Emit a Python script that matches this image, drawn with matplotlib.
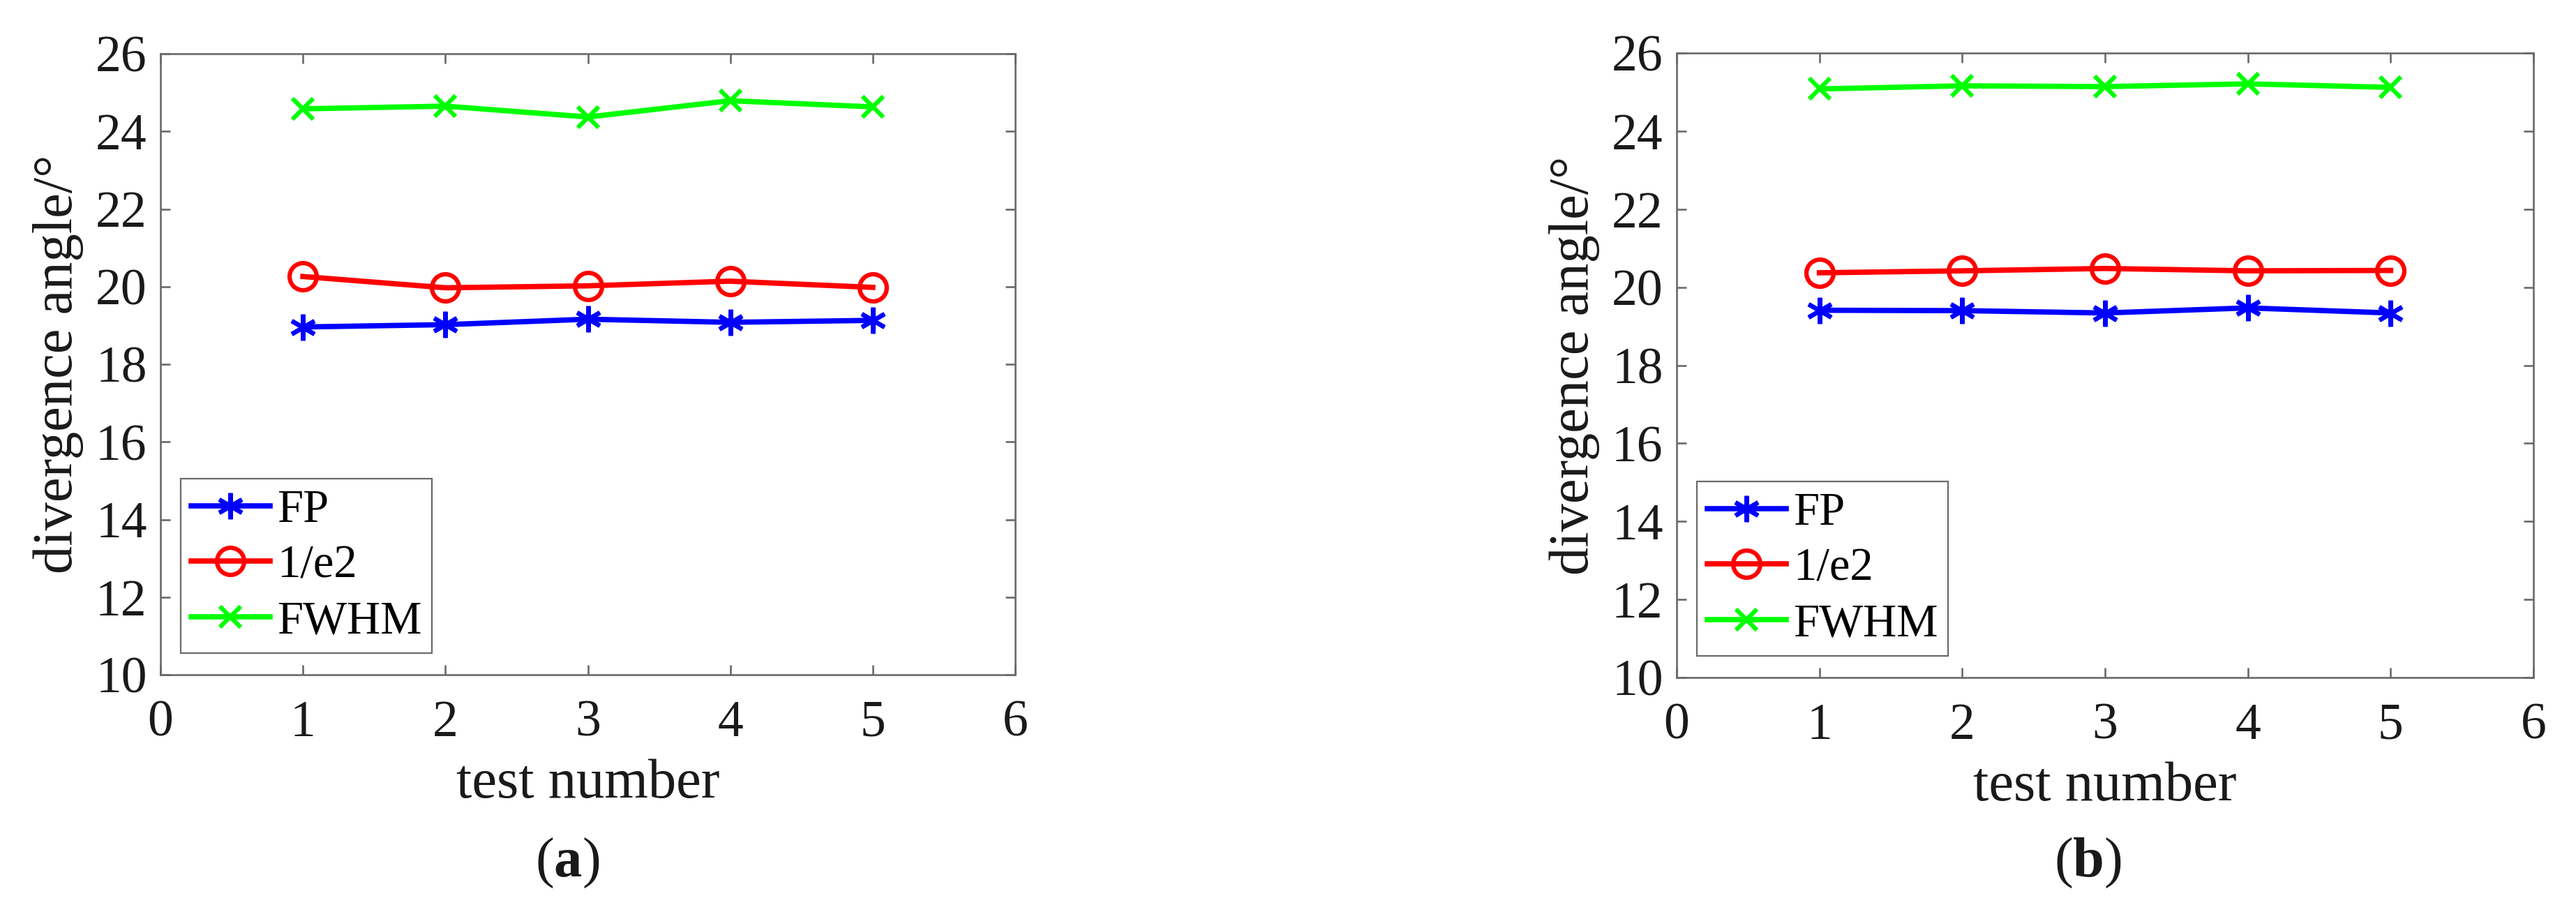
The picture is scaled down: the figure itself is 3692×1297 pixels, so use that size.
import numpy as np
import matplotlib
matplotlib.use("Agg")
import matplotlib.pyplot as plt

plt.rcParams['font.family'] = ['Liberation Serif', 'DejaVu Serif']
plt.rcParams['mathtext.fontset'] = 'custom'
plt.rcParams['mathtext.rm'] = 'Liberation Serif'
plt.rcParams['mathtext.bf'] = 'Liberation Serif:bold'

# data
test_number = [1, 2, 3, 4, 5]

fp_a = [18.96, 19.02, 19.16, 19.08, 19.13]
e2_a = [20.26, 19.97, 20.02, 20.14, 19.98]
fwhm_a = [24.58, 24.65, 24.37, 24.79, 24.63]

fp_b = [19.41, 19.40, 19.34, 19.47, 19.34]
e2_b = [20.37, 20.42, 20.48, 20.42, 20.43]
fwhm_b = [25.08, 25.16, 25.14, 25.21, 25.12]

labels = ["FP", "1/e2", "FWHM"]
panel_names = ["a", "b"]

W, H = 3692, 1297
fig = plt.figure(figsize=(W / 100, H / 100), dpi=100)

spine_col = '#6a6a6a'

def make_panel(rect, fp, e2, fwhm, name, label_x):
    ax = fig.add_axes(rect)
    ax.plot(test_number, fp, color=(0, 0, 1), lw=5.5, marker=(6, 2, 0),
            ms=27, mew=4.5, label=labels[0])
    ax.plot(test_number, e2, color=(1, 0, 0), lw=5.5, marker='o', mfc='none',
            ms=28, mew=4.5, label=labels[1])
    ax.plot(test_number, fwhm, color=(0, 1, 0), lw=5.5, marker='x',
            ms=21, mew=4.5, label=labels[2])
    ax.set_xlim(0, 6)
    ax.set_ylim(10, 26)
    ax.set_xticks(range(0, 7))
    ax.set_yticks(range(10, 27, 2))
    for s in ax.spines.values():
        s.set_color(spine_col)
        s.set_linewidth(1.9)
    ax.tick_params(direction='in', length=10, width=1.9, color=spine_col,
                   top=True, right=True, labelsize=53, labelcolor='#1a1a1a')
    ax.tick_params(axis='x', pad=26)
    ax.tick_params(axis='y', pad=14)
    ax.set_xlabel("test number", fontsize=58, color='#1a1a1a', labelpad=12)
    ax.set_ylabel("divergence angle/°", fontsize=58, color='#1a1a1a', labelpad=12)
    leg = ax.legend(loc='lower left', bbox_to_anchor=(0.0236, 0.0347),
                    borderaxespad=0, fontsize=48, handlelength=1.7,
                    handletextpad=0.15, labelspacing=0.28, borderpad=0.22,
                    fancybox=False, framealpha=1)
    leg.get_frame().set_edgecolor(spine_col)
    leg.get_frame().set_linewidth(1.6)
    fig.text(label_x, 1 - 1237 / H, r'$\mathrm{(}\mathbf{' + name + r'}\mathrm{)}$',
             fontsize=58, ha='center', va='center', color='#1a1a1a')
    return ax

make_panel([230 / W, 1 - 967 / H, 1225 / W, 890 / H], fp_a, e2_a, fwhm_a,
           panel_names[0], 813 / W)
make_panel([2403 / W, 1 - 971 / H, 1228 / W, 895 / H], fp_b, e2_b, fwhm_b,
           panel_names[1], 2992 / W)

fig.savefig("out.png", dpi=100, facecolor='white')
